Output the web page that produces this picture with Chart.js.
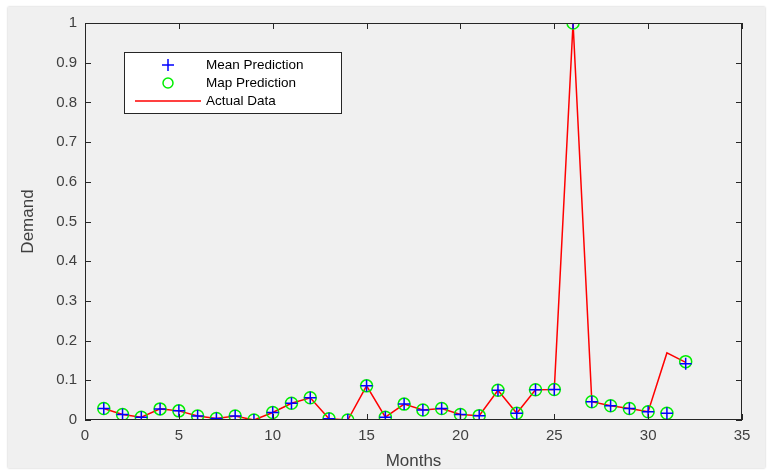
<!DOCTYPE html>
<html>
<head>
<meta charset="utf-8">
<script src="https://cdn.jsdelivr.net/npm/chart.js@4.4.1/dist/chart.umd.min.js"></script>
<style>
  html, body { margin: 0; padding: 0; background: #ffffff; }
  #frame {
    position: absolute; left: 8px; top: 7px; width: 757px; height: 461px;
    background: #f0f0f0; box-shadow: 0 0 2px rgba(0,0,0,0.25);
  }
  #wrap { position: absolute; left: 0; top: 0; width: 770px; height: 472px; }
</style>
</head>
<body>
<div id="frame"></div>
<div id="wrap"><canvas id="myChart" width="770" height="472"></canvas></div>
<script>
// months 1..32
const months = [1,2,3,4,5,6,7,8,9,10,11,12,13,14,15,16,17,18,19,20,21,22,23,24,25,26,27,28,29,30,31,32];

const meanPred = [0.029,0.014,0.007,0.028,0.023,0.010,0.004,0.010,0.000,0.019,0.042,0.056,
  0.003,0.000,0.086,0.007,0.040,0.025,0.029,0.014,0.011,0.075,0.017,0.076,0.077,1.000,
  0.046,0.036,0.029,0.021,0.017,0.142];
const mapPred = [0.029,0.014,0.007,0.028,0.023,0.010,0.004,0.010,0.000,0.019,0.042,0.056,
  0.003,0.000,0.086,0.007,0.040,0.025,0.029,0.014,0.011,0.075,0.017,0.076,0.077,1.000,
  0.046,0.036,0.029,0.021,0.017,0.147];
const actual = [0.029,0.014,0.007,0.028,0.023,0.010,0.004,0.010,0.000,0.019,0.042,0.056,
  0.003,0.000,0.086,0.007,0.040,0.025,0.029,0.014,0.011,0.075,0.017,0.076,0.077,1.000,
  0.046,0.036,0.029,0.021,0.169,0.145];

const xTicks = [0,5,10,15,20,25,30,35];
const yTicks = [0,0.1,0.2,0.3,0.4,0.5,0.6,0.7,0.8,0.9,1];

const axisCol = '#262626';
const labelCol = '#404040';

function pts(ys) {
  return months.map((m, i) => ({x: m, y: ys[i]}));
}

// matlab style box, inward ticks and legend
const matlabAxes = {
  id: 'matlabAxes',
  afterDatasetsDraw(chart) {
    const ctx = chart.ctx;
    const a = chart.chartArea;
    const xs = chart.scales.x, ys = chart.scales.y;
    ctx.save();
    ctx.strokeStyle = axisCol;
    ctx.lineWidth = 1;
    ctx.strokeRect(a.left + 0.5, a.top + 0.5, a.right - a.left - 1, a.bottom - a.top - 1);
    ctx.beginPath();
    xTicks.forEach(t => {
      const px = Math.round(xs.getPixelForValue(t)) + 0.5;
      ctx.moveTo(px, a.bottom); ctx.lineTo(px, a.bottom - 6);
      ctx.moveTo(px, a.top); ctx.lineTo(px, a.top + 6);
    });
    yTicks.forEach(t => {
      const py = Math.round(ys.getPixelForValue(t)) + 0.5;
      ctx.moveTo(a.left, py); ctx.lineTo(a.left + 6, py);
      ctx.moveTo(a.right, py); ctx.lineTo(a.right - 6, py);
    });
    ctx.stroke();

    // legend
    const lx = 124, ly = 52, lw = 217, lh = 61;
    ctx.fillStyle = '#ffffff';
    ctx.fillRect(lx, ly, lw, lh);
    ctx.strokeStyle = '#262626';
    ctx.strokeRect(lx + 0.5, ly + 0.5, lw, lh);
    ctx.font = '13.5px "Liberation Sans", Arial, sans-serif';
    ctx.textBaseline = 'middle';
    const rows = [ly + 13, ly + 31, ly + 49];
    ctx.lineWidth = 1.5;
    // cross
    ctx.strokeStyle = '#0000ff';
    ctx.beginPath();
    ctx.moveTo(lx + 44, rows[0] - 6); ctx.lineTo(lx + 44, rows[0] + 6);
    ctx.moveTo(lx + 38, rows[0]); ctx.lineTo(lx + 50, rows[0]);
    ctx.stroke();
    // circle
    ctx.strokeStyle = '#00ee00';
    ctx.beginPath();
    ctx.arc(lx + 44, rows[1], 5, 0, Math.PI * 2);
    ctx.stroke();
    // line
    ctx.strokeStyle = '#ff0000';
    ctx.beginPath();
    ctx.moveTo(lx + 11, rows[2]); ctx.lineTo(lx + 77, rows[2]);
    ctx.stroke();
    ctx.fillStyle = '#000000';
    chart.data.datasets.forEach((d, i) => {
      ctx.fillText(d.label, lx + 82, rows[i]);
    });
    ctx.restore();
  }
};

const ctx = document.getElementById('myChart').getContext('2d');

const myChart = new Chart(ctx, {
  type: 'scatter',
  data: {
    datasets: [
      {
        label: 'Mean Prediction',
        data: pts(meanPred),
        pointStyle: 'cross',
        pointRadius: 6,
        borderColor: '#0000ff',
        borderWidth: 1.5,
        showLine: false
      },
      {
        label: 'Map Prediction',
        data: pts(mapPred),
        pointStyle: 'circle',
        pointRadius: 6,
        borderColor: '#00ee00',
        backgroundColor: 'rgba(0,0,0,0)',
        borderWidth: 1.5,
        showLine: false
      },
      {
        label: 'Actual Data',
        data: pts(actual),
        showLine: true,
        pointRadius: 0,
        borderColor: '#ff0000',
        borderWidth: 1.5,
        tension: 0
      }
    ]
  },
  options: {
    responsive: false,
    animation: false,
    layout: { padding: { top: 23, right: 28, left: 18, bottom: 0 } },
    plugins: {
      legend: { display: false },
      tooltip: { enabled: false }
    },
    scales: {
      x: {
        type: 'linear',
        min: 0, max: 35,
        afterBuildTicks: s => { s.ticks = xTicks.map(v => ({value: v})); },
        ticks: {
          color: labelCol,
          font: { size: 15, family: '"Liberation Sans", Arial, sans-serif' },
          padding: 7,
          maxRotation: 0
        },
        grid: { display: false, drawTicks: false },
        border: { display: false },
        title: {
          display: true, text: 'Months', color: labelCol,
          font: { size: 17, family: '"Liberation Sans", Arial, sans-serif' },
          padding: { top: 5, bottom: 0 }
        },
        afterFit: s => { s.height = 52; }
      },
      y: {
        type: 'linear',
        min: 0, max: 1,
        afterBuildTicks: s => { s.ticks = yTicks.map(v => ({value: v})); },
        ticks: {
          color: labelCol,
          font: { size: 15, family: '"Liberation Sans", Arial, sans-serif' },
          padding: 8,
          callback: v => String(Math.round(v * 10) / 10)
        },
        grid: { display: false, drawTicks: false },
        border: { display: false },
        title: {
          display: true, text: 'Demand', color: labelCol,
          font: { size: 17, family: '"Liberation Sans", Arial, sans-serif' },
          padding: { top: 0, bottom: 4 }
        },
        afterFit: s => { s.width = 67; }
      }
    }
  },
  plugins: [matlabAxes]
});
</script>
</body>
</html>
